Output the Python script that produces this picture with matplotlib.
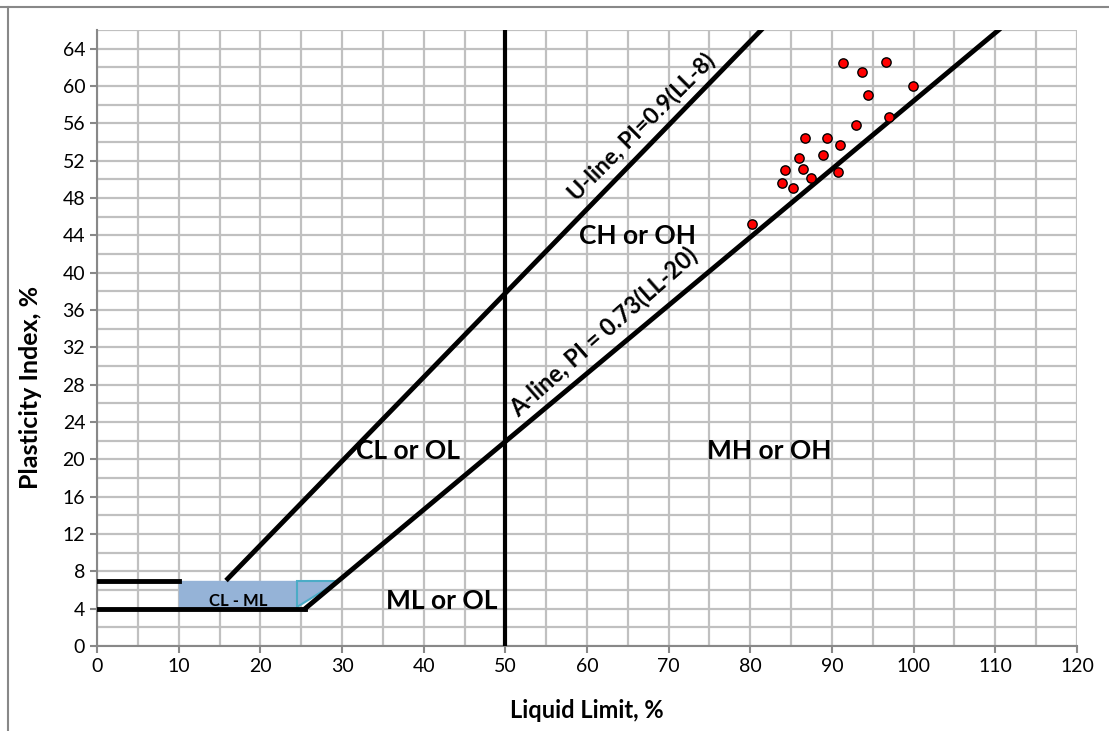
import numpy as np
import matplotlib
matplotlib.use('Agg')
import matplotlib.pyplot as plt
from matplotlib.lines import Line2D

plt.rcParams['font.family'] = ['Lato', 'DejaVu Sans']

# measured soil samples
ll = [80.2, 83.9, 84.2, 85.2, 86.0, 86.4, 86.7, 87.4, 88.9, 89.4,
      90.7, 91.0, 91.3, 92.9, 93.7, 94.4, 96.6, 97.0, 99.9]
pi = [45.2, 49.6, 51.0, 49.1, 52.3, 51.1, 54.4, 50.1, 52.6, 54.4,
      50.8, 53.7, 62.5, 55.8, 61.5, 59.0, 62.6, 56.7, 60.0]

# chart lines
u_ll = [16, 81.3]
a_ll = [25.5, 110.4]
x_ticks = list(range(0, 121, 10))
y_ticks = list(range(0, 65, 4))

fig = plt.figure(figsize=(11.09, 7.31), dpi=100)
ax = fig.add_axes([0.0875, 0.1163, 0.8836, 0.8427])
ax.set_xlim(0, 120)
ax.set_ylim(0, 66)

ax.set_xticks(x_ticks)
ax.set_yticks(y_ticks)
ax.set_xticks(np.arange(0, 121, 5), minor=True)
ax.set_yticks(np.arange(0, 67, 2), minor=True)
ax.grid(which='both', color='#c0c0c0', lw=1.6, zorder=0)
ax.tick_params(which='minor', length=0)
ax.tick_params(which='major', length=5, width=1.5, color='#888888', labelsize=14)
for s in ['top', 'right']:
    ax.spines[s].set_visible(False)
for s in ['left', 'bottom']:
    ax.spines[s].set_color('#888888')
    ax.spines[s].set_linewidth(1.5)

# CL-ML zone
ax.fill_between([10, 24.5], 4, 7, color='#95b3d7', zorder=2)
ax.fill([24.5, 24.5, 29.6], [4.2, 7, 7], facecolor='#95b3d7', edgecolor='#4bacc6', lw=1.5, zorder=2)
ax.text(17.3, 4.8, 'CL - ML', fontsize=12, fontweight='bold', ha='center', va='center', zorder=4)

ax.plot([0, 10], [7, 7], color='black', lw=3.5, zorder=3)
ax.plot([0, 25.5], [4, 4], color='black', lw=3.5, zorder=3)
ax.plot(u_ll, [0.9 * (x - 8) for x in u_ll], color='black', lw=3.5, zorder=3)
ax.plot(a_ll, [0.73 * (x - 20) for x in a_ll], color='black', lw=3.5, zorder=3)
ax.plot([50, 50], [0, 66], color='black', lw=3, zorder=3)

ax.scatter(ll, pi, s=45, color='red', edgecolor='black', lw=1, zorder=5)

ax.text(66.7, 55.6, 'U-line, PI=0.9(LL-8)', rotation=45, fontsize=16.5, fontweight='bold',
        ha='center', va='center', rotation_mode='anchor')
ax.text(62.1, 33.6, 'A-line, PI = 0.73(LL-20)', rotation=41.5, fontsize=17, fontweight='bold',
        ha='center', va='center', rotation_mode='anchor')
ax.text(66.2, 43.9, 'CH or OH', fontsize=19, fontweight='bold', ha='center', va='center')
ax.text(38.1, 20.9, 'CL or OL', fontsize=19, fontweight='bold', ha='center', va='center')
ax.text(82.3, 20.9, 'MH or OH', fontsize=19, fontweight='bold', ha='center', va='center')
ax.text(42.2, 4.8, 'ML or OL', fontsize=19, fontweight='bold', ha='center', va='center')

ax.set_xlabel('Liquid Limit, %', fontsize=17, fontweight='bold')
ax.set_ylabel('Plasticity Index, %', fontsize=18, fontweight='bold')
ax.xaxis.set_label_coords(0.5, -0.086)
ax.yaxis.set_label_coords(-0.056, 0.42)

fig.add_artist(Line2D([0, 1], [0.990, 0.990], transform=fig.transFigure, color='#888888', lw=1.5))
fig.add_artist(Line2D([0.0075, 0.0075], [0, 0.990], transform=fig.transFigure, color='#888888', lw=1.5))

fig.savefig('out.png', dpi=100)
